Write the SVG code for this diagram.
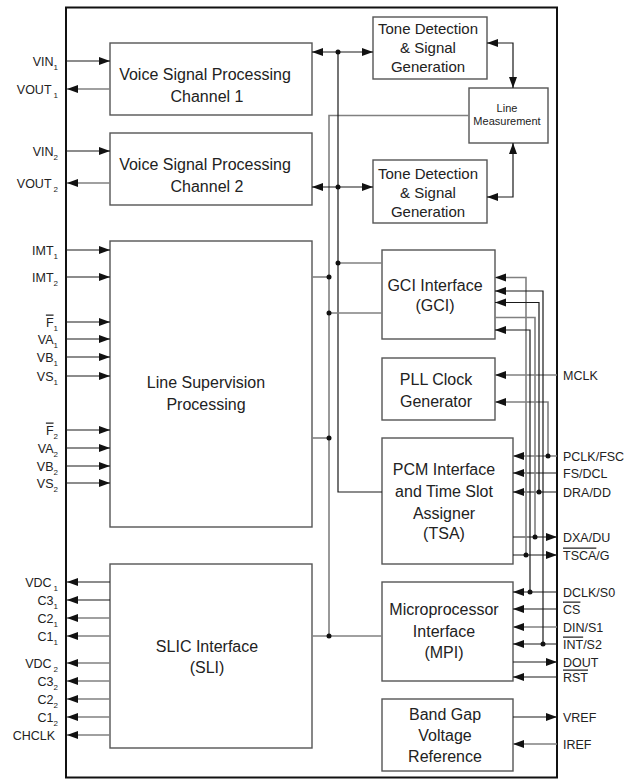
<svg xmlns="http://www.w3.org/2000/svg" width="626" height="780" viewBox="0 0 626 780">
<style>
.box{fill:#fff;stroke:#555;stroke-width:1.4}
.t{font-family:"Liberation Sans",Arial,sans-serif;font-size:16px;fill:#222;text-anchor:middle}
.t15{font-size:15px}
.sm{font-size:11px}
.lbl{font-family:"Liberation Sans",Arial,sans-serif;font-size:12.5px;fill:#222}
.l{text-anchor:end}
.sub{font-size:8px}
.ov{text-decoration:overline}
.k{stroke:#1a1a1a;stroke-width:1.2;fill:none}
.g{stroke:#808080;stroke-width:1.6;fill:none}
.a{marker-end:url(#ah)}
.aa{marker-start:url(#ah);marker-end:url(#ah)}
.dot{fill:#111}
</style>
<defs>
<marker id="ah" markerUnits="userSpaceOnUse" markerWidth="12" markerHeight="9" refX="11" refY="4" orient="auto-start-reverse">
<path d="M0,0 L11,4 L0,8 z" fill="#111"/>
</marker>
</defs>
<rect x="0" y="0" width="626" height="780" fill="#fff"/>
<rect id="outline" x="66" y="7.5" width="491" height="770" fill="none" stroke="#111" stroke-width="2"/>

<g id="vsp1"><rect class="box" x="110" y="43" width="202" height="72"/>
<text class="t" x="205" y="79.5">Voice Signal Processing</text><text class="t" x="207" y="101.5">Channel 1</text></g>
<g id="vsp2"><rect class="box" x="110" y="133" width="202" height="72"/>
<text class="t" x="205" y="169.5">Voice Signal Processing</text><text class="t" x="207" y="191.5">Channel 2</text></g>
<g id="tone1"><rect class="box" x="373" y="17" width="114" height="62"/>
<text class="t t15" x="428" y="34">Tone Detection</text><text class="t t15" x="428" y="53">&amp; Signal</text><text class="t t15" x="428" y="72">Generation</text></g>
<g id="linemeas"><rect class="box" x="469" y="88" width="79" height="55"/>
<text class="t sm" x="507" y="112">Line</text><text class="t sm" x="507" y="125">Measurement</text></g>
<g id="tone2"><rect class="box" x="373" y="160" width="114" height="63"/>
<text class="t t15" x="428" y="179">Tone Detection</text><text class="t t15" x="428" y="198">&amp; Signal</text><text class="t t15" x="428" y="217">Generation</text></g>
<g id="lsp"><rect class="box" x="110" y="241" width="202" height="286"/>
<text class="t" x="206" y="388">Line Supervision</text><text class="t" x="206" y="409.5">Processing</text></g>
<g id="gci"><rect class="box" x="382" y="250" width="113" height="89"/>
<text class="t" x="435" y="291">GCI Interface</text><text class="t" x="435" y="311">(GCI)</text></g>
<g id="pll"><rect class="box" x="382" y="358" width="113" height="62"/>
<text class="t" x="436" y="385">PLL Clock</text><text class="t" x="436" y="406.5">Generator</text></g>
<g id="pcm"><rect class="box" x="382" y="438" width="131" height="126"/>
<text class="t" x="444" y="475">PCM Interface</text><text class="t" x="444" y="497">and Time Slot</text><text class="t" x="444" y="518.5">Assigner</text><text class="t" x="444" y="539">(TSA)</text></g>
<g id="mpi"><rect class="box" x="382" y="582" width="131" height="99"/>
<text class="t" x="444" y="615">Microprocessor</text><text class="t" x="444" y="636.5">Interface</text><text class="t" x="444" y="658">(MPI)</text></g>
<g id="bandgap"><rect class="box" x="382" y="699" width="131" height="72"/>
<text class="t" x="445" y="720">Band Gap</text><text class="t" x="445" y="741">Voltage</text><text class="t" x="445" y="762">Reference</text></g>
<g id="sli"><rect class="box" x="110" y="564" width="202" height="184"/>
<text class="t" x="207" y="651.5">SLIC Interface</text><text class="t" x="207" y="673">(SLI)</text></g>

<g id="connectors">
<path class="k a" d="M66,61H110"/>
<path class="g a" d="M110,89H67"/>
<path class="k a" d="M66,151H110"/>
<path class="g a" d="M110,183H67"/>
<path class="k a" d="M66,250H110"/>
<path class="k a" d="M66,277H110"/>
<path class="k a" d="M66,322H110"/>
<path class="k a" d="M66,339H110"/>
<path class="k a" d="M66,357H110"/>
<path class="k a" d="M66,376H110"/>
<path class="k a" d="M66,430H110"/>
<path class="k a" d="M66,448H110"/>
<path class="k a" d="M66,466H110"/>
<path class="k a" d="M66,483H110"/>
<path class="k a" d="M110,582H67"/>
<path class="k a" d="M110,600H67"/>
<path class="g a" d="M110,618H67"/>
<path class="g a" d="M110,636H67"/>
<path class="g a" d="M110,663H67"/>
<path class="g a" d="M110,681H67"/>
<path class="g a" d="M110,699H67"/>
<path class="g a" d="M110,717H67"/>
<path class="g a" d="M110,735H67"/>
<path class="g" d="M469,115.5H329V636"/>
<path class="k" d="M338,52V492H382"/>
<path class="k aa" d="M312,52H373"/>
<path class="k aa" d="M312,187H373"/>
<path class="g" d="M338,263H382"/>
<path class="g" d="M312,277H329"/>
<path class="g" d="M329,313H382"/>
<path class="g" d="M312,438H329"/>
<path class="g" d="M312,636H382"/>
<path class="k aa" d="M487,43H513V88"/>
<path class="k aa" d="M487,197H513V143"/>
<path class="g a" d="M557,375H495"/>
<path class="g a" d="M548,456V402H495"/>
<path class="g a" d="M557,456H513"/>
<path class="k a" d="M557,473H513"/>
<path class="k a" d="M557,492H513"/>
<path class="k a" d="M513,537H557"/>
<path class="k a" d="M513,555H557"/>
<path class="k a" d="M557,592H513"/>
<path class="k a" d="M557,609H513"/>
<path class="g a" d="M557,627H513"/>
<path class="k a" d="M557,644H513"/>
<path class="k a" d="M513,662H557"/>
<path class="k a" d="M557,677H513"/>
<path class="k a" d="M513,717H557"/>
<path class="g a" d="M557,744H513"/>
<path class="g a" d="M526,555V277.5H495"/>
<path class="k a" d="M543,644V291H495"/>
<path class="k a" d="M539,492V302.5H495"/>
<path class="g" d="M495,317.5H535V537"/>
<path class="k a" d="M530,592V330H495"/>
<circle class="dot" cx="338" cy="52" r="2.5"/>
<circle class="dot" cx="338" cy="187" r="2.5"/>
<circle class="dot" cx="338" cy="263" r="2.5"/>
<circle class="dot" cx="329" cy="277" r="2.5"/>
<circle class="dot" cx="329" cy="313" r="2.5"/>
<circle class="dot" cx="329" cy="438" r="2.5"/>
<circle class="dot" cx="329" cy="636" r="2.5"/>
<circle class="dot" cx="548" cy="456" r="2.5"/>
<circle class="dot" cx="539" cy="492" r="2.5"/>
<circle class="dot" cx="535" cy="537" r="2.5"/>
<circle class="dot" cx="526" cy="555" r="2.5"/>
<circle class="dot" cx="530" cy="592" r="2.5"/>
<circle class="dot" cx="543" cy="644" r="2.5"/>
</g>

<g id="left-labels">
<text class="lbl l" x="58" y="65.5">VIN<tspan class="sub" dy="4">1</tspan></text>
<text class="lbl l" x="58" y="93.5">VOUT<tspan class="sub" dx="2" dy="4">1</tspan></text>
<text class="lbl l" x="58" y="155.5">VIN<tspan class="sub" dy="4">2</tspan></text>
<text class="lbl l" x="58" y="187.5">VOUT<tspan class="sub" dx="2" dy="4">2</tspan></text>
<text class="lbl l" x="58" y="254.5">IMT<tspan class="sub" dy="4">1</tspan></text>
<text class="lbl l" x="58" y="281.5">IMT<tspan class="sub" dy="4">2</tspan></text>
<text class="lbl l" x="58" y="326.5"><tspan class="ov">F</tspan><tspan class="sub" dy="4">1</tspan></text>
<text class="lbl l" x="58" y="343.5">VA<tspan class="sub" dy="4">1</tspan></text>
<text class="lbl l" x="58" y="361.5">VB<tspan class="sub" dy="4">1</tspan></text>
<text class="lbl l" x="58" y="380.5">VS<tspan class="sub" dy="4">1</tspan></text>
<text class="lbl l" x="58" y="434.5"><tspan class="ov">F</tspan><tspan class="sub" dy="4">2</tspan></text>
<text class="lbl l" x="58" y="452.5">VA<tspan class="sub" dy="4">2</tspan></text>
<text class="lbl l" x="58" y="470.5">VB<tspan class="sub" dy="4">2</tspan></text>
<text class="lbl l" x="58" y="487.5">VS<tspan class="sub" dy="4">2</tspan></text>
<text class="lbl l" x="58" y="586.5">VDC<tspan class="sub" dx="2" dy="4">1</tspan></text>
<text class="lbl l" x="58" y="604.5">C3<tspan class="sub" dy="4">1</tspan></text>
<text class="lbl l" x="58" y="622.5">C2<tspan class="sub" dy="4">1</tspan></text>
<text class="lbl l" x="58" y="640.5">C1<tspan class="sub" dy="4">1</tspan></text>
<text class="lbl l" x="58" y="667.5">VDC<tspan class="sub" dx="2" dy="4">2</tspan></text>
<text class="lbl l" x="58" y="685.5">C3<tspan class="sub" dy="4">2</tspan></text>
<text class="lbl l" x="58" y="703.5">C2<tspan class="sub" dy="4">2</tspan></text>
<text class="lbl l" x="58" y="721.5">C1<tspan class="sub" dy="4">2</tspan></text>
<text class="lbl l" x="55" y="739.5">CHCLK</text>
</g>

<g id="right-labels">
<text class="lbl" x="563" y="379.5">MCLK</text>
<text class="lbl" x="563" y="460.5">PCLK/FSC</text>
<text class="lbl" x="563" y="477.5">FS/DCL</text>
<text class="lbl" x="563" y="496.5">DRA/DD</text>
<text class="lbl" x="563" y="541.5">DXA/DU</text>
<text class="lbl" x="563" y="559.5"><tspan class="ov">TSCA</tspan>/G</text>
<text class="lbl" x="563" y="596.5">DCLK/S0</text>
<text class="lbl" x="563" y="613.5"><tspan class="ov">CS</tspan></text>
<text class="lbl" x="563" y="631.5">DIN/S1</text>
<text class="lbl" x="563" y="648.5"><tspan class="ov">INT</tspan>/S2</text>
<text class="lbl" x="563" y="666.5">DOUT</text>
<text class="lbl" x="563" y="681.5"><tspan class="ov">RST</tspan></text>
<text class="lbl" x="563" y="721.5">VREF</text>
<text class="lbl" x="563" y="748.5">IREF</text>
</g>
</svg>
